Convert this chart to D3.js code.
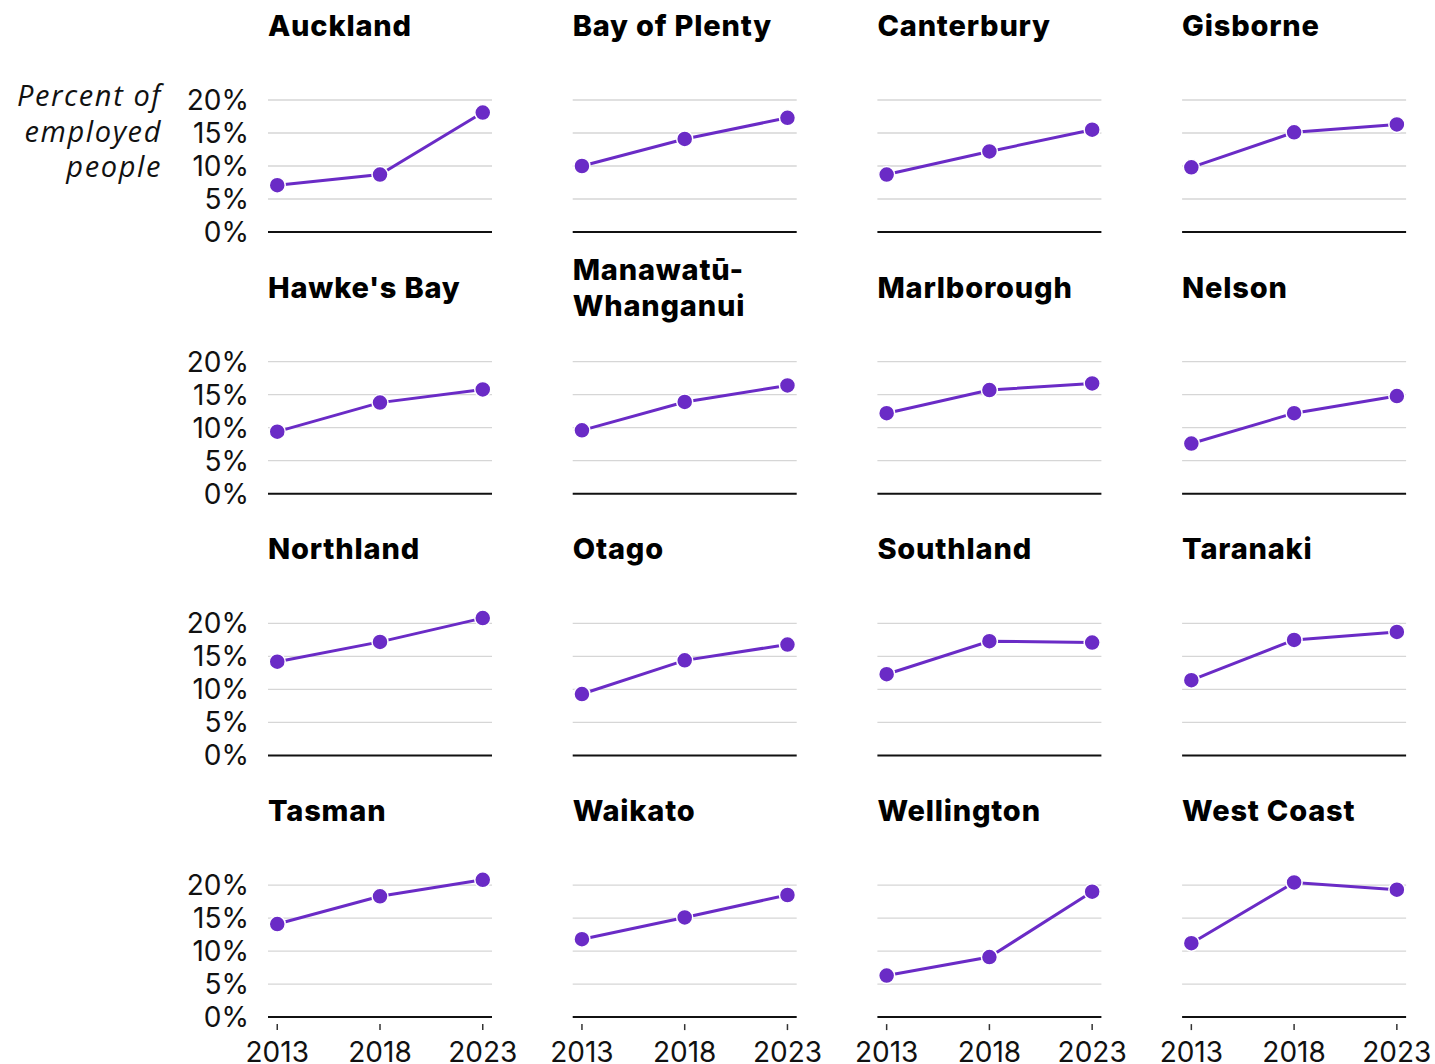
<!DOCTYPE html>
<html>
<head>
<meta charset="utf-8">
<script src="https://cdn.jsdelivr.net/npm/d3@7"></script>
<style>
  body { margin: 0; background: #fff; }
  svg { display: block; }
  .title { font-family: Inter, "Noto Sans", sans-serif; font-weight: 800; font-size: 29px; letter-spacing: 0.8px; fill: #000; }
  .tick-label { font-family: Inter, "Noto Sans", sans-serif; font-weight: 400; font-size: 28px; fill: #111; }
  .axis-title { font-family: "Open Sans", sans-serif; font-style: italic; font-weight: 400; font-size: 29px; letter-spacing: 1.6px; fill: #111; }
</style>
</head>
<body>
<svg id="chart" width="1435" height="1064"></svg>
<script>
// regions in the order of the small multiples
const regions = [
  "Auckland", "Bay of Plenty", "Canterbury", "Gisborne",
  "Hawke's Bay", "Manawatū-Whanganui", "Marlborough", "Nelson",
  "Northland", "Otago", "Southland", "Taranaki",
  "Tasman", "Waikato", "Wellington", "West Coast"
];
const years = [2013, 2018, 2023];

// percent of employed people, one array per census year
const share2013 = [7.1, 10.0, 8.7, 9.8, 9.4, 9.6, 12.2, 7.6, 14.2, 9.3, 12.3, 11.4, 14.1, 11.8, 6.3, 11.2];
const share2018 = [8.7, 14.1, 12.2, 15.1, 13.8, 13.9, 15.7, 12.2, 17.2, 14.4, 17.3, 17.5, 18.3, 15.1, 9.1, 20.4];
const share2023 = [18.1, 17.3, 15.5, 16.3, 15.8, 16.4, 16.7, 14.8, 20.8, 16.8, 17.1, 18.7, 20.8, 18.5, 19.0, 19.3];

const yTicks = [0, 5, 10, 15, 20];
const axisTitle = ["Percent of", "employed", "people"];

const purple = "#6a2bc6";

// layout
const ncol = 4;
const left0 = 268, colStep = 304.7;
const zero0 = 232, rowStep = 261.7;
const pw = 224, ph = 132;

const svg = d3.select("#chart");

const x = d3.scalePoint().domain(years).range([0, pw]).padding(0.09);
const y = d3.scaleLinear().domain([0, 20]).range([ph, 0]);

const panels = regions.map((name, i) => ({
  name: name,
  col: i % ncol,
  row: Math.floor(i / ncol),
  values: [share2013[i], share2018[i], share2023[i]]
}));

const g = svg.selectAll("g.panel")
  .data(panels)
  .enter()
  .append("g")
  .attr("class", "panel")
  .attr("transform", d => "translate(" + (left0 + d.col * colStep) + "," + (zero0 + d.row * rowStep - ph) + ")");

// titles (long name wraps after the hyphen)
g.each(function (d) {
  const lines = d.name.length > 14 ? d.name.replace("-", "-\n").split("\n") : [d.name];
  const t = d3.select(this).append("text").attr("class", "title");
  lines.forEach((l, k) => {
    t.append("tspan")
      .attr("x", 0)
      .attr("y", -64 + (k - (lines.length - 1) / 2) * 36)
      .text(l);
  });
});

// grid lines
g.selectAll("line.grid")
  .data(yTicks.filter(v => v > 0))
  .enter()
  .append("line")
  .attr("x1", 0).attr("x2", pw)
  .attr("y1", v => y(v)).attr("y2", v => y(v))
  .attr("stroke", "#d6d6d6")
  .attr("stroke-width", 1.3);

// baseline
g.append("line")
  .attr("x1", 0).attr("x2", pw)
  .attr("y1", y(0)).attr("y2", y(0))
  .attr("stroke", "#111")
  .attr("stroke-width", 2);

// y tick labels on the first column
g.filter(d => d.col === 0)
  .selectAll("text.tick-label")
  .data(yTicks)
  .enter()
  .append("text")
  .attr("class", "tick-label")
  .attr("x", -19)
  .attr("y", v => y(v))
  .attr("dy", "0.36em")
  .attr("text-anchor", "end")
  .text(v => v + "%");

// x ticks and labels on the bottom row
const bottom = g.filter(d => d.row === 3);
bottom.selectAll("line.xtick")
  .data(years)
  .enter()
  .append("line")
  .attr("x1", v => x(v)).attr("x2", v => x(v))
  .attr("y1", ph + 7).attr("y2", ph + 13)
  .attr("stroke", "#333")
  .attr("stroke-width", 1.5);
bottom.selectAll("text.xlabel")
  .data(years)
  .enter()
  .append("text")
  .attr("class", "tick-label")
  .attr("x", v => x(v))
  .attr("y", ph + 45)
  .attr("text-anchor", "middle")
  .text(v => v);

// lines
const line = d3.line()
  .x((v, k) => x(years[k]))
  .y(v => y(v));

g.append("path")
  .attr("d", d => line(d.values))
  .attr("fill", "none")
  .attr("stroke", purple)
  .attr("stroke-width", 3);

g.selectAll("circle")
  .data(d => d.values)
  .enter()
  .append("circle")
  .attr("cx", (v, k) => x(years[k]))
  .attr("cy", v => y(v))
  .attr("r", 8)
  .attr("fill", purple)
  .attr("stroke", "#fff")
  .attr("stroke-width", 1.5);

// axis title, first panel only
svg.append("text")
  .attr("class", "axis-title")
  .attr("text-anchor", "end")
  .selectAll("tspan")
  .data(axisTitle)
  .enter()
  .append("tspan")
  .attr("x", 162)
  .attr("y", (l, k) => 106 + k * 35.5)
  .text(l => l);
</script>
</body>
</html>
